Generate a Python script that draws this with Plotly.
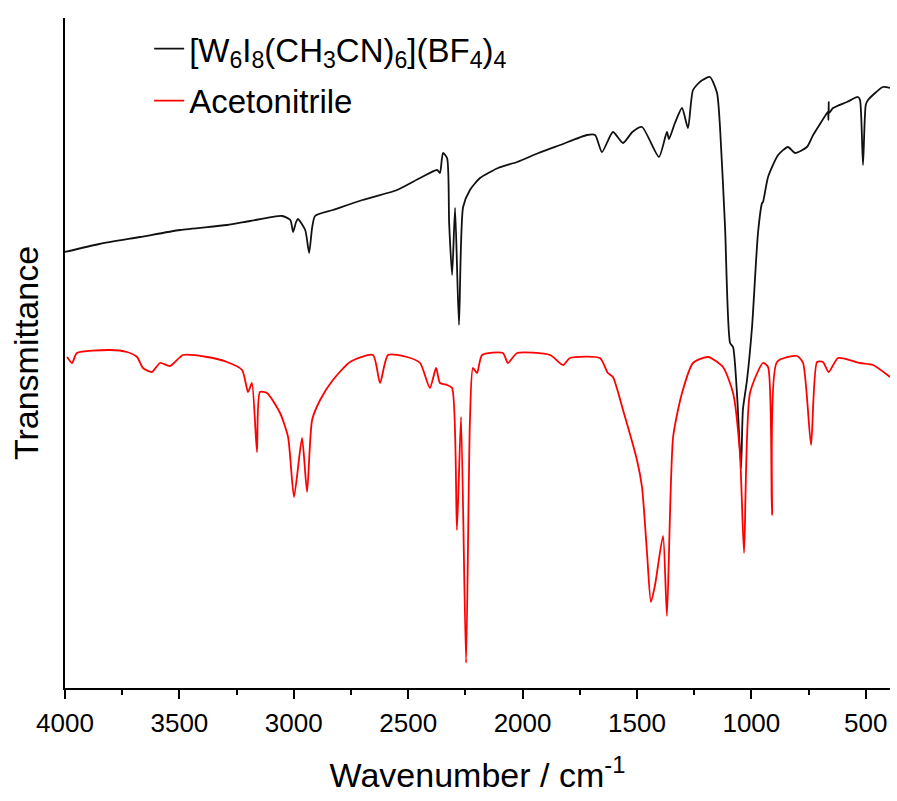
import plotly.graph_objects as go

# Wavenumber (cm-1) and transmittance (arbitrary units, offset spectra)
complex_wn = [4000, 3850, 3672, 3497, 3292, 3191, 3051, 3015, 3003, 2990, 2982, 2950, 2933,
              2920, 2907, 2829, 2700, 2549, 2448, 2374, 2361, 2348, 2330, 2321, 2308, 2295,
              2278, 2260, 2230, 2186, 2107, 2024, 1930, 1836, 1718, 1683, 1653, 1605, 1561,
              1520, 1478, 1404, 1369, 1360, 1334, 1303, 1277, 1255, 1220, 1181, 1150, 1137,
              1115, 1093, 1080, 1063, 1045, 1037, 1019, 997, 971, 953, 949, 927, 883, 840,
              809, 757, 730, 669, 665, 663, 662, 660, 643, 582, 534, 525, 512, 500, 490,
              425, 394]
complex_t = [436, 444, 451, 458, 463, 467, 472, 468, 456, 466, 469, 458, 435,
             460, 472, 478, 488, 498, 510, 518, 515, 535, 530, 465, 413, 480,
             363, 481, 498, 510, 520, 526, 535, 543, 553, 553, 536, 556, 545,
             556, 561, 531, 556, 549, 565, 580, 560, 598, 607, 611, 595, 561,
             461, 345, 341, 295, 220, 278, 308, 361, 455, 485, 486, 511, 533, 541,
             535, 541, 553, 575, 576, 568, 586, 575, 580, 586, 591, 588, 523, 583, 588,
             601, 600]

mecn_wn = [3991, 3969, 3948, 3803, 3729, 3685, 3659, 3620, 3585, 3541, 3484, 3379,
           3292, 3226, 3200, 3183, 3161, 3148, 3117, 3060, 3025, 2999, 2964, 2942,
           2920, 2885, 2829, 2754, 2654, 2623, 2588, 2505, 2448, 2405, 2378, 2361,
           2330, 2308, 2287, 2269, 2247, 2230, 2217, 2199, 2177, 2086, 2064, 2024,
           1880, 1823, 1793, 1662, 1627, 1605, 1561, 1500, 1478, 1456, 1439, 1421,
           1386, 1369, 1342, 1303, 1255, 1189, 1124, 1080, 1050, 1032, 1006, 949,
           927, 910, 888, 800, 774, 739, 713, 687, 662, 621, 525, 468, 394]
mecn_t = [331, 325, 335, 338, 336, 331, 320, 316, 325, 322, 333, 331,
          326, 318, 296, 305, 236, 296, 295, 275, 251, 191, 250, 196,
          268, 288, 308, 326, 333, 305, 333, 331, 325, 300, 320, 305,
          303, 300, 158, 271, 25, 268, 320, 315, 333, 335, 325, 335,
          333, 323, 330, 330, 315, 311, 278, 228, 201, 135, 86, 103,
          152, 72, 251, 295, 325, 331, 321, 295, 235, 135, 295, 325,
          321, 173, 326, 332, 325, 243, 326, 326, 316, 330, 325, 323, 311]

x_ticks = [4000, 3500, 3000, 2500, 2000, 1500, 1000, 500]
x_minor = [3750, 3250, 2750, 2250, 1750, 1250, 750]

FONT = "Liberation Sans, Arial, sans-serif"

fig = go.Figure()
fig.add_trace(go.Scatter(
    x=complex_wn, y=complex_t, mode="lines",
    name="[W<sub>6</sub>I<sub>8</sub>(CH<sub>3</sub>CN)<sub>6</sub>](BF<sub>4</sub>)<sub>4</sub>",
    line=dict(color="#111111", width=1.8, shape="spline", smoothing=0.6),
    legendgroup="a"))
fig.add_trace(go.Scatter(
    x=mecn_wn, y=mecn_t, mode="lines", name="Acetonitrile",
    line=dict(color="#ff0000", width=1.8, shape="spline", smoothing=0.6),
    legendgroup="b"))

fig.update_layout(
    width=897, height=801,
    margin=dict(l=65, r=7, t=18, b=113, autoexpand=False),
    paper_bgcolor="white", plot_bgcolor="white",
    font=dict(family=FONT, color="black"),
    legend=dict(x=0.102, y=0.996, xanchor="left", yanchor="top",
                font=dict(size=33, family=FONT), bgcolor="rgba(0,0,0,0)",
                tracegroupgap=6),
    showlegend=True,
)
fig.update_xaxes(
    range=[4000, 394], tickvals=x_ticks, ticks="outside", ticklen=9, tickwidth=2,
    tickcolor="black", showline=True, linewidth=2, linecolor="black",
    showgrid=False, zeroline=False, tickfont=dict(size=26, family=FONT),
    automargin=False, ticklabelstandoff=2,
    minor=dict(tickvals=x_minor, ticklen=5, tickwidth=2, tickcolor="black",
               ticks="outside", showgrid=False),
    title=dict(text="Wavenumber / cm<sup>-1</sup>", font=dict(size=34, family=FONT),
               standoff=26),
)
fig.update_yaxes(
    range=[0, 670], showline=True, linewidth=2, linecolor="black",
    showticklabels=False, ticks="", showgrid=False, zeroline=False,
    automargin=False,
    title=dict(text="Transmittance", font=dict(size=34, family=FONT), standoff=14),
)

fig.write_html("out.html", config={"displayModeBar": False},
               post_script="document.body.style.margin='0px';")
